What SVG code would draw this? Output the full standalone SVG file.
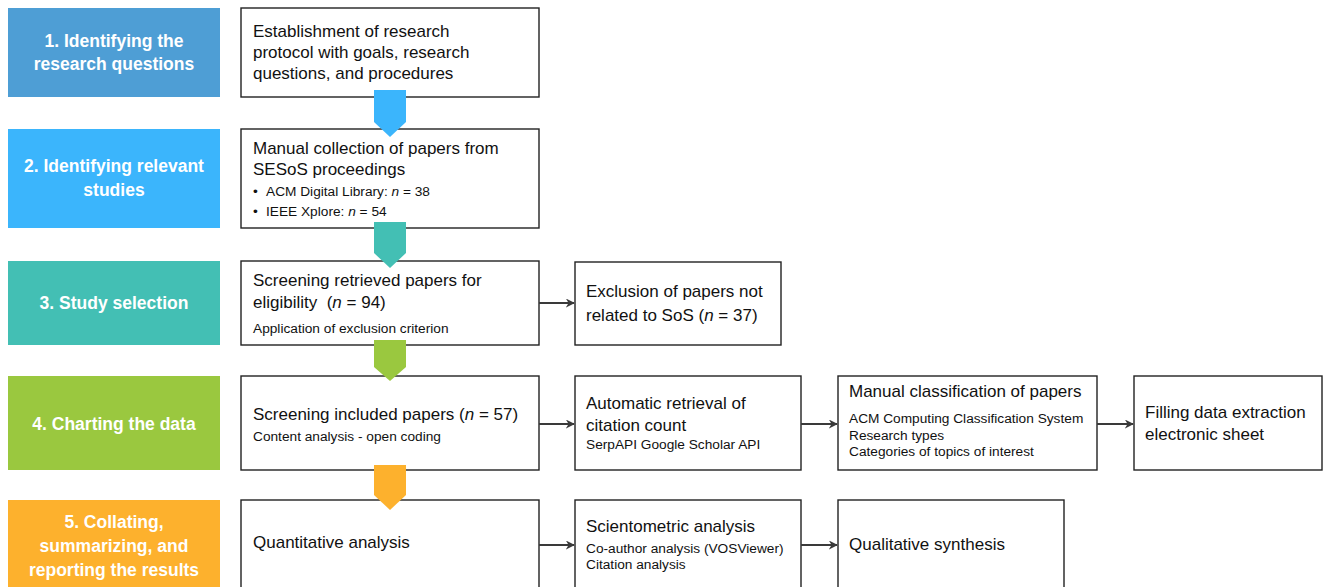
<svg xmlns="http://www.w3.org/2000/svg" width="1323" height="587" viewBox="0 0 1323 587">
<defs>
<style>
.stage{font-family:"Liberation Sans",Arial,sans-serif;font-weight:bold;font-size:17.5px;fill:#ffffff;text-anchor:middle}
.box{fill:#ffffff;stroke:#222222;stroke-width:1.4}
.t{font-family:"Liberation Sans",Arial,sans-serif;font-size:17px;fill:#111111}
.s{font-family:"Liberation Sans",Arial,sans-serif;font-size:13.7px;fill:#111111}
.conn{stroke:#3a3a3a;stroke-width:2;fill:none}
.i{font-style:italic}
</style>
<marker id="ah" viewBox="0 0 10 10" refX="9" refY="5" markerWidth="4.5" markerHeight="4.5" orient="auto" markerUnits="strokeWidth">
<path d="M0,0 L10,5 L0,10 L3,5 Z" fill="#3a3a3a"/>
</marker>
</defs>
<rect width="1323" height="587" fill="#ffffff"/>

<g id="stage1">
<rect x="8" y="8" width="212" height="89" fill="#4E9ED5"/>
<text class="stage" x="114" y="47">1. Identifying the</text>
<text class="stage" x="114" y="70">research questions</text>
</g>
<g id="stage2">
<rect x="8" y="129" width="212" height="99" fill="#3BB5FC"/>
<text class="stage" x="114" y="172">2. Identifying relevant</text>
<text class="stage" x="114" y="196">studies</text>
</g>
<g id="stage3">
<rect x="8" y="261" width="212" height="84" fill="#43BFB4"/>
<text class="stage" x="114" y="309">3. Study selection</text>
</g>
<g id="stage4">
<rect x="8" y="376" width="212" height="94" fill="#9AC83F"/>
<text class="stage" x="114" y="430">4. Charting the data</text>
</g>
<g id="stage5">
<rect x="8" y="500" width="212" height="100" fill="#FDB12D"/>
<text class="stage" x="114" y="528">5. Collating,</text>
<text class="stage" x="114" y="552">summarizing, and</text>
<text class="stage" x="114" y="576">reporting the results</text>
</g>

<g id="protocol">
<rect class="box" x="241" y="8" width="298" height="89"/>
<text class="t" x="253" y="37">Establishment of research</text>
<text class="t" x="253" y="58">protocol with goals, research</text>
<text class="t" x="253" y="79">questions, and procedures</text>
</g>
<g id="collection">
<rect class="box" x="241" y="129" width="298" height="99"/>
<text class="t" x="253" y="154">Manual collection of papers from</text>
<text class="t" x="253" y="175">SESoS proceedings</text>
<text class="s" x="253" y="196">•</text>
<text class="s" x="266" y="196">ACM Digital Library: <tspan class="i">n</tspan> = 38</text>
<text class="s" x="253" y="216">•</text>
<text class="s" x="266" y="216">IEEE Xplore: <tspan class="i">n</tspan> = 54</text>
</g>
<g id="screening">
<rect class="box" x="241" y="261" width="298" height="84"/>
<text class="t" x="253" y="286">Screening retrieved papers for</text>
<text class="t" x="253" y="308" xml:space="preserve">eligibility  (<tspan class="i">n</tspan> = 94)</text>
<text class="s" x="253" y="333">Application of exclusion criterion</text>
</g>
<g id="exclusion">
<rect class="box" x="575" y="262" width="206" height="83"/>
<text class="t" x="586" y="297">Exclusion of papers not</text>
<text class="t" x="586" y="321">related to SoS (<tspan class="i">n</tspan> = 37)</text>
</g>
<g id="included">
<rect class="box" x="241" y="376" width="298" height="94"/>
<text class="t" x="253" y="420">Screening included papers (<tspan class="i">n</tspan> = 57)</text>
<text class="s" x="253" y="441">Content analysis - open coding</text>
</g>
<g id="citation">
<rect class="box" x="575" y="376" width="226" height="94"/>
<text class="t" x="586" y="409">Automatic retrieval of</text>
<text class="t" x="586" y="431">citation count</text>
<text class="s" x="586" y="449">SerpAPI Google Scholar API</text>
</g>
<g id="classification">
<rect class="box" x="838" y="376" width="259" height="94"/>
<text class="t" x="849" y="397">Manual classification of papers</text>
<text class="s" x="849" y="423">ACM Computing Classification System</text>
<text class="s" x="849" y="440">Research types</text>
<text class="s" x="849" y="456">Categories of topics of interest</text>
</g>
<g id="filling">
<rect class="box" x="1134" y="376" width="188" height="94"/>
<text class="t" x="1145" y="418">Filling data extraction</text>
<text class="t" x="1145" y="440">electronic sheet</text>
</g>
<g id="quantitative">
<rect class="box" x="241" y="500" width="298" height="100"/>
<text class="t" x="253" y="548">Quantitative analysis</text>
</g>
<g id="scientometric">
<rect class="box" x="575" y="500" width="226" height="100"/>
<text class="t" x="586" y="532">Scientometric analysis</text>
<text class="s" x="586" y="553">Co-author analysis (VOSViewer)</text>
<text class="s" x="586" y="569">Citation analysis</text>
</g>
<g id="qualitative">
<rect class="box" x="838" y="500" width="226" height="100"/>
<text class="t" x="849" y="550">Qualitative synthesis</text>
</g>

<g id="connectors">
<path d="M374,90 H406 V122 L390,137 L374,122 Z" fill="#3BB5FC"/>
<path d="M374,222 H406 V253 L390,268 L374,253 Z" fill="#43BFB4"/>
<path d="M374,340 H406 V367 L390,381 L374,367 Z" fill="#9AC83F"/>
<path d="M374,465 H406 V495 L390,510 L374,495 Z" fill="#FDB12D"/>
<line class="conn" x1="539" y1="303" x2="574" y2="303" marker-end="url(#ah)"/>
<line class="conn" x1="539" y1="424" x2="574" y2="424" marker-end="url(#ah)"/>
<line class="conn" x1="801" y1="424" x2="837" y2="424" marker-end="url(#ah)"/>
<line class="conn" x1="1097" y1="424" x2="1133" y2="424" marker-end="url(#ah)"/>
<line class="conn" x1="539" y1="545" x2="574" y2="545" marker-end="url(#ah)"/>
<line class="conn" x1="801" y1="545" x2="837" y2="545" marker-end="url(#ah)"/>
</g>
</svg>
